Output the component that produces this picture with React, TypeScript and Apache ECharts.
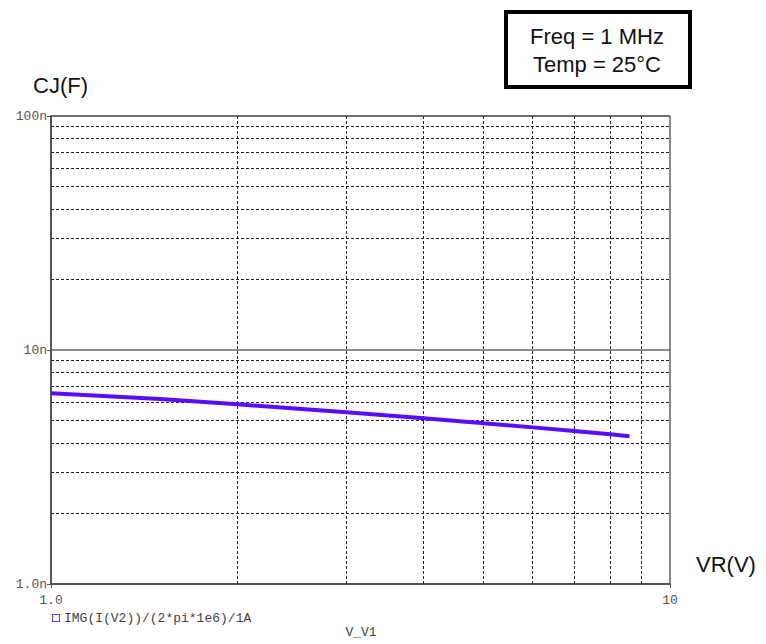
import React, { useEffect, useRef } from "react";
import * as echarts from "echarts";

// Reverse voltage (V) and junction capacitance (nF)
const vr: number[] = [1.0, 1.5, 2, 3, 4, 5, 6, 7, 8, 8.6];
const cj: number[] = [6.53, 6.18, 5.86, 5.42, 5.11, 4.86, 4.67, 4.51, 4.36, 4.28];
const minorX: number[] = [2, 3, 4, 5, 6, 7, 8, 9];
const minorY: number[] = [2, 3, 4, 5, 6, 7, 8, 9, 20, 30, 40, 50, 60, 70, 80, 90];
const seriesName = "IMG(I(V2))/(2*pi*1e6)/1A";

export default function App() {
  const ref = useRef<HTMLDivElement>(null);
  useEffect(() => {
    if (!ref.current) return;
    const chart = echarts.init(ref.current, undefined, { renderer: "svg" });
    const mono = "'Liberation Mono', 'Courier New', monospace";
    const sans = "'Liberation Sans', Arial, sans-serif";
    const gridStyle = { color: "#222", type: [3, 2] as any, width: 1 };
    chart.setOption({
      animation: false,
      backgroundColor: "#fff",
      grid: { left: 51, right: 96, top: 116, bottom: 60, show: true, borderColor: "#111", borderWidth: 1 },
      xAxis: {
        type: "log",
        logBase: 10,
        min: 1,
        max: 10,
        axisLine: { show: true, lineStyle: { color: "#555", width: 2 } },
        axisTick: { show: true, length: 4, lineStyle: { color: "#555" } },
        splitLine: { show: false },
        axisLabel: {
          fontFamily: mono,
          fontSize: 13,
          color: "#555",
          margin: 10,
          formatter: (v: number) => (v === 1 ? "1.0" : String(Math.round(v))),
        },
      },
      yAxis: {
        type: "log",
        logBase: 10,
        min: 1,
        max: 100,
        axisLine: { show: true, lineStyle: { color: "#555", width: 2 } },
        axisTick: { show: true, length: 4, lineStyle: { color: "#555" } },
        splitLine: { show: true, lineStyle: { color: "#666", width: 1.5 } },
        axisLabel: {
          fontFamily: mono,
          fontSize: 13,
          color: "#555",
          margin: 4,
          formatter: (v: number) => (v === 1 ? "1.0n" : Math.round(v) + "n"),
        },
      },
      series: [
        {
          type: "line",
          data: [],
          z: 1,
          silent: true,
          markLine: {
            silent: true,
            symbol: ["none", "none"],
            label: { show: false },
            lineStyle: gridStyle,
            data: [
              ...minorX.map((x) => ({ xAxis: x })),
              ...minorY.map((y) => ({ yAxis: y })),
            ],
          },
        },
        {
          name: seriesName,
          type: "line",
          z: 5,
          data: vr.map((x, i) => [x, cj[i]]),
          showSymbol: false,
          smooth: false,
          lineStyle: { color: "#5a0cff", width: 4 },
        },
      ],
      graphic: [
        { type: "text", left: 33, top: 74, style: { text: "CJ(F)", font: `22px ${sans}`, fill: "#111" } },
        { type: "text", left: 696, top: 553, style: { text: "VR(V)", font: `22px ${sans}`, fill: "#111" } },
        {
          type: "rect",
          shape: { x: 506, y: 12, width: 184, height: 75 },
          style: { fill: "#fff", stroke: "#000", lineWidth: 4 },
        },
        {
          type: "text",
          x: 597,
          y: 36,
          style: { text: "Freq = 1 MHz", font: `22px ${sans}`, fill: "#111", align: "center", verticalAlign: "middle" },
        },
        {
          type: "text",
          x: 597,
          y: 64,
          style: { text: "Temp = 25\u00B0C", font: `22px ${sans}`, fill: "#111", align: "center", verticalAlign: "middle" },
        },
        {
          type: "rect",
          shape: { x: 52.5, y: 614.5, width: 7, height: 7 },
          style: { fill: "none", stroke: "#7a3cff", lineWidth: 1.2 },
        },
        {
          type: "text",
          x: 64,
          y: 618,
          style: { text: seriesName, font: `13px ${mono}`, fill: "#444", verticalAlign: "middle" },
        },
        {
          type: "text",
          x: 361,
          y: 632,
          style: { text: "V_V1", font: `13px ${mono}`, fill: "#444", align: "center", verticalAlign: "middle" },
        },
      ],
    });
    return () => chart.dispose();
  }, []);
  return <div ref={ref} style={{ position: "fixed", left: 0, top: 0, width: 766, height: 644 }} />;
}
